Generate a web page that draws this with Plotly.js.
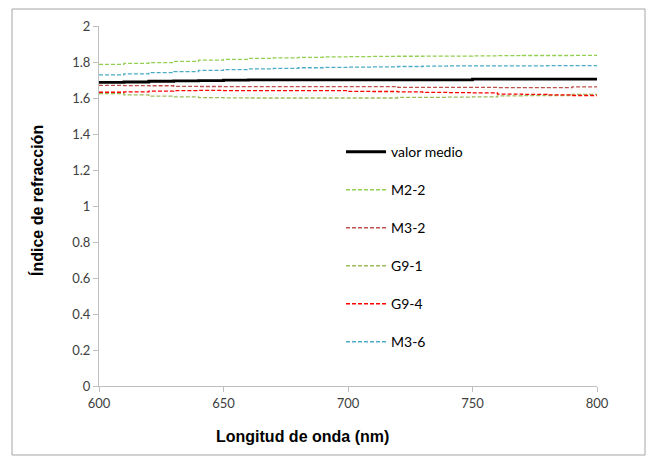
<!DOCTYPE html>
<html>
<head>
<meta charset="utf-8">
<script src="https://cdn.plot.ly/plotly-3.0.1.min.js"></script>
<style>html,body{margin:0;padding:0;background:#fff;}#chart{width:647px;height:460px;}</style>
</head>
<body>
<div id="chart"></div>
<script>
var wavelength = [600,610,620,630,640,650,660,670,680,690,700,710,720,730,740,750,760,770,780,790,800];
var valorMedio = [1.687,1.689,1.693,1.695,1.697,1.699,1.701,1.701,1.701,1.701,1.701,1.701,1.701,1.701,1.701,1.705,1.705,1.705,1.705,1.705,1.705];
var m22 = [1.787,1.792,1.797,1.803,1.810,1.815,1.820,1.823,1.826,1.828,1.830,1.831,1.832,1.833,1.833,1.834,1.835,1.836,1.836,1.837,1.837];
var m32 = [1.670,1.669,1.668,1.665,1.664,1.663,1.663,1.663,1.663,1.663,1.663,1.663,1.659,1.659,1.659,1.659,1.658,1.658,1.658,1.662,1.662];
var g91 = [1.624,1.617,1.610,1.606,1.602,1.601,1.600,1.600,1.600,1.600,1.600,1.600,1.603,1.604,1.605,1.606,1.612,1.613,1.614,1.620,1.622];
var g94 = [1.632,1.634,1.638,1.641,1.642,1.641,1.641,1.641,1.641,1.641,1.637,1.636,1.634,1.631,1.630,1.628,1.622,1.620,1.617,1.614,1.612];
var m36 = [1.728,1.734,1.741,1.747,1.753,1.758,1.762,1.765,1.768,1.770,1.772,1.773,1.775,1.777,1.778,1.778,1.779,1.779,1.780,1.780,1.780];
var seriesNames = ["valor medio","M2-2","M3-2","G9-1","G9-4","M3-6"];
var xTicks = [600,650,700,750,800];
var yTicks = [0,0.2,0.4,0.6,0.8,1,1.2,1.4,1.6,1.8,2];
var yTickText = ["0","0.2","0.4","0.6","0.8","1","1.2","1.4","1.6","1.8","2"];

var seriesData = [valorMedio, m22, m32, g91, g94, m36];
var colors = ["#000000","#92D050","#C0504D","#9BBB59","#FF0000","#4BACC6"];
var traces = seriesData.map(function(d,i){
  return {
    x: wavelength, y: d, name: seriesNames[i], type: "scatter", mode: "lines",
    legendgroup: "g"+i,
    line: {color: colors[i], width: i===0 ? 2.8 : 1.3, dash: i===0 ? "solid" : "4px,2px", shape: "hv"}
  };
});

var layout = {
  width: 647, height: 460,
  margin: {l: 99, r: 50, t: 26, b: 74},
  paper_bgcolor: "#ffffff", plot_bgcolor: "#ffffff",
  font: {family: "Lato, 'Open Sans', sans-serif", size: 13, color: "#404040"},
  showlegend: true,
  legend: {x: 0.486, y: 0.694, xanchor: "left", yanchor: "top", bgcolor: "rgba(0,0,0,0)",
           tracegroupgap: 16.8, font: {size: 14, color: "#000000", family: "Lato, 'Open Sans', sans-serif"}, itemwidth: 40},
  xaxis: {range: [600, 800], tickvals: xTicks, ticktext: xTicks.map(String), showgrid: false, zeroline: false,
          showline: true, linecolor: "#BFBFBF", linewidth: 1, ticks: "outside", ticklen: 5, tickcolor: "#BFBFBF",
          tickfont: {size: 13, color: "#404040"}, fixedrange: true},
  yaxis: {range: [0, 2], tickvals: yTicks, ticktext: yTickText, showgrid: false, zeroline: false,
          showline: true, linecolor: "#BFBFBF", linewidth: 1, ticks: "outside", ticklen: 5, tickcolor: "#BFBFBF",
          tickfont: {size: 13, color: "#404040"}, fixedrange: true},
  annotations: [
    {text: "Longitud de onda (nm)", xref: "paper", yref: "paper", x: (302-99)/498, y: (386-436)/360,
     xanchor: "center", yanchor: "middle", showarrow: false,
     font: {family: "'Liberation Sans', Arial, sans-serif", size: 16, color: "#000000", weight: "bold"}},
    {text: "Índice de refracción", xref: "paper", yref: "paper", x: (37-99)/498, y: (386-201)/360,
     xanchor: "center", yanchor: "middle", showarrow: false, textangle: -90,
     font: {family: "'Liberation Sans', Arial, sans-serif", size: 16, color: "#000000", weight: "bold"}}
  ],
  shapes: [
    {type: "rect", xref: "paper", yref: "paper", x0: (12-99)/498, x1: (645-99)/498, y0: (386-455)/360, y1: (386-9)/360,
     line: {color: "#A6A6A6", width: 1}, fillcolor: "rgba(0,0,0,0)", layer: "below"}
  ]
};

Plotly.newPlot("chart", traces, layout, {displayModeBar: false, staticPlot: true});
</script>
</body>
</html>
